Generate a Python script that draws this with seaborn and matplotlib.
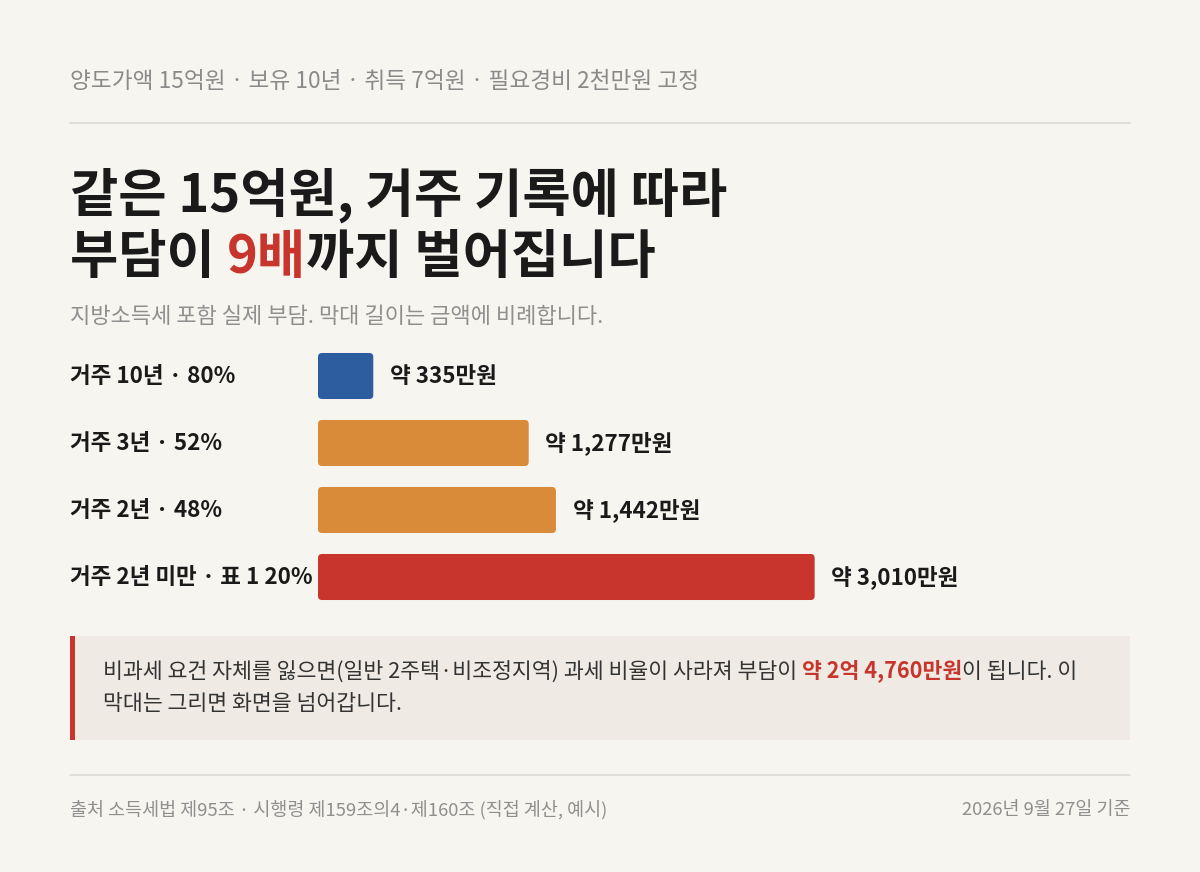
import matplotlib
matplotlib.use("Agg")
import matplotlib.pyplot as plt
import seaborn as sns
from matplotlib.patches import Rectangle, FancyBboxPatch
from matplotlib.transforms import blended_transform_factory

sns.set_theme(style="white")
plt.rcParams['font.family'] = ['Noto Sans CJK KR', 'DejaVu Sans']

# ---- data ----
categories = ["거주 10년 · 80%", "거주 3년 · 52%", "거주 2년 · 48%", "거주 2년 미만 · 표 1 20%"]
values = [335, 1277, 1442, 3010]
value_labels = ["약 335만원", "약 1,277만원", "약 1,442만원", "약 3,010만원"]
bar_colors = ["#2d5d9f", "#da8b3a", "#da8b3a", "#c8352c"]

kicker = "양도가액 15억원 · 보유 10년 · 취득 7억원 · 필요경비 2천만원 고정"
title_line1 = "같은 15억원, 거주 기록에 따라"
title_line2 = ["부담이 ", "9배", "까지 벌어집니다"]
subtitle = "지방소득세 포함 실제 부담. 막대 길이는 금액에 비례합니다."
note_line1 = ["비과세 요건 자체를 잃으면(일반 2주택·비조정지역) 과세 비율이 사라져 부담이 ", "약 2억 4,760만원", "이 됩니다. 이"]
note_line2 = "막대는 그리면 화면을 넘어갑니다."
source = "출처 소득세법 제95조 · 시행령 제159조의4·제160조 (직접 계산, 예시)"
date_note = "2026년 9월 27일 기준"

BG = "#f7f5f0"
RED = "#c8352c"
W, H = 1200, 872

def fx(x):
    return x / W

def fy(y):
    return 1 - y / H

fig = plt.figure(figsize=(12, 8.72), dpi=100, facecolor=BG)

# ---- bar axes ----
x_px_per_unit = 0.165
ax_left, ax_right = 318, 1130
ax_top, ax_bot = 342.5, 610.5
ax = fig.add_axes([fx(ax_left), fy(ax_bot), fx(ax_right - ax_left), (ax_bot - ax_top) / H])
ax.set_facecolor(BG)
sns.barplot(x=values, y=categories, hue=categories, palette=bar_colors, orient="h",
            width=0.687, legend=False, ax=ax, saturation=1)
ax.set_xlim(0, (ax_right - ax_left) / x_px_per_unit)
ax.set_ylim(3.5, -0.5)
for s in ax.spines.values():
    s.set_visible(False)
ax.set_xticks([])
ax.set_yticks([])
ax.set_xlabel("")
ax.set_ylabel("")

# round bar corners
y_units_per_px = 1 / 67.0
x_units_per_px = 1 / x_px_per_unit
old = list(ax.patches)
for p in old:
    x0, y0 = p.get_x(), p.get_y()
    w, h = p.get_width(), p.get_height()
    c = p.get_facecolor()
    p.remove()
    fb = FancyBboxPatch((x0, y0), w, h,
                        boxstyle=f"round,pad=0,rounding_size={4 * x_units_per_px}",
                        mutation_aspect=y_units_per_px / x_units_per_px,
                        facecolor=c, edgecolor="none")
    ax.add_patch(fb)

# value labels
for i, (v, lab) in enumerate(zip(values, value_labels)):
    ax.annotate(lab, xy=(v, i), xytext=(12, 0), textcoords="offset points",
                ha="left", va="center", fontsize=16.2, fontweight="bold", color="#1a1a1a")

# category labels
tr = blended_transform_factory(fig.transFigure, ax.transData)
for i, cat in enumerate(categories):
    ax.text(fx(70), i, cat, transform=tr, ha="left", va="center",
            fontsize=16.2, fontweight="bold", color="#1a1a1a", clip_on=False)

# ---- header ----
fig.text(fx(70), fy(82), kicker, ha="left", va="center", fontsize=16.3, color="#8a8a8a")
fig.add_artist(plt.Line2D([fx(70), fx(1130)], [fy(123), fy(123)], color="#dcdad5", lw=1.2))

renderer = fig.canvas.get_renderer()

def draw_segments(x_px, y_px, segs, **kw):
    x = x_px
    for text, color, weight in segs:
        t = fig.text(fx(x), fy(y_px), text, ha="left", va="center", color=color,
                     fontweight=weight, **kw)
        bb = t.get_window_extent(renderer=renderer)
        x += bb.width
    return x

fig.text(fx(70), fy(195), title_line1, ha="left", va="center", fontsize=37.8,
         fontweight="bold", color="#1a1a1a")
draw_segments(70, 257, [(title_line2[0], "#1a1a1a", "bold"),
                        (title_line2[1], RED, "bold"),
                        (title_line2[2], "#1a1a1a", "bold")], fontsize=37.8)

fig.text(fx(70), fy(317), subtitle, ha="left", va="center", fontsize=15.9, color="#8f8f8f")

# ---- callout ----
fig.add_artist(Rectangle((fx(70), fy(740)), fx(1060), (740 - 636) / H,
                         transform=fig.transFigure, facecolor="#efebe4", edgecolor="none"))
fig.add_artist(Rectangle((fx(70), fy(740)), fx(5), (740 - 636) / H,
                         transform=fig.transFigure, facecolor=RED, edgecolor="none"))
draw_segments(103, 672, [(note_line1[0], "#333333", "normal"),
                         (note_line1[1], RED, "bold"),
                         (note_line1[2], "#333333", "normal")], fontsize=15.6)
fig.text(fx(103), fy(704), note_line2, ha="left", va="center", fontsize=15.6, color="#333333")

# ---- footer ----
fig.add_artist(plt.Line2D([fx(70), fx(1130)], [fy(775), fy(775)], color="#dcdad5", lw=1.2))
fig.text(fx(70), fy(810), source, ha="left", va="center", fontsize=13.3, color="#8f8f8f")
fig.text(fx(1130), fy(810), date_note, ha="right", va="center", fontsize=13.3, color="#8f8f8f")

fig.savefig("out.png", dpi=100, facecolor=BG)
